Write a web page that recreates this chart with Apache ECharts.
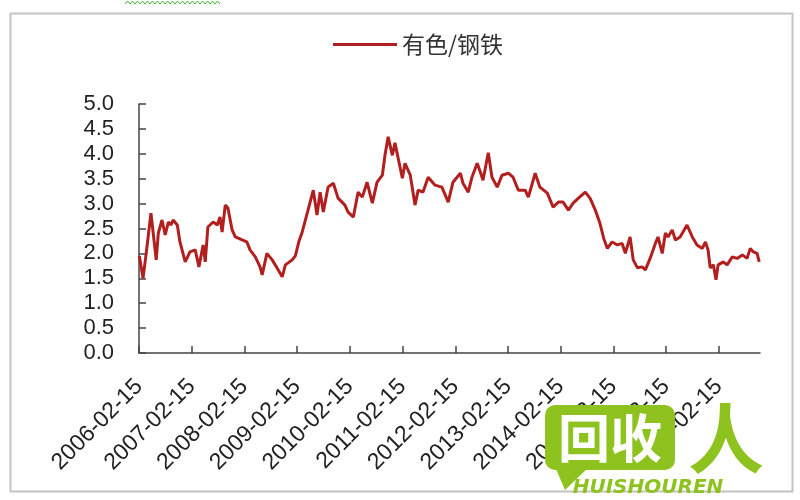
<!DOCTYPE html>
<html>
<head>
<meta charset="utf-8">
<script src="https://cdn.jsdelivr.net/npm/echarts@6/dist/echarts.min.js"></script>
<style>html,body{margin:0;padding:0;background:#fff}#c{width:800px;height:500px}</style>
</head>
<body>
<div id="c"></div>
<script>
// ---- data ----
const seriesName = '有色/钢铁';
const xTickLabels = ['2006-02-15','2007-02-15','2008-02-15','2009-02-15','2010-02-15','2011-02-15',
  '2012-02-15','2013-02-15','2014-02-15','2015-02-15','2016-02-15','2017-02-15'];
const yTickLabels = ['0.0','0.5','1.0','1.5','2.0','2.5','3.0','3.5','4.0','4.5','5.0'];
// decimal years
const years = [
  2006.13,2006.20,2006.26,2006.35,2006.45,2006.49,2006.56,2006.62,2006.68,2006.73,2006.77,2006.85,2006.90,
  2007.00,2007.09,2007.19,2007.26,2007.34,2007.38,2007.43,2007.53,2007.61,2007.66,2007.70,2007.76,2007.81,2007.89,2007.95,
  2008.08,2008.17,2008.23,2008.33,2008.42,2008.46,2008.55,2008.65,2008.74,2008.84,2008.90,
  2009.03,2009.09,2009.16,2009.22,2009.30,2009.37,2009.43,2009.50,2009.56,2009.62,2009.71,2009.81,2009.90,
  2010.03,2010.09,2010.19,2010.28,2010.36,2010.45,2010.55,2010.64,2010.74,2010.79,2010.85,2010.93,2010.98,
  2011.04,2011.12,2011.17,2011.27,2011.36,2011.42,2011.51,2011.61,2011.74,2011.87,2011.99,
  2012.08,2012.22,2012.27,2012.37,2012.44,2012.54,2012.60,2012.65,2012.75,2012.82,2012.92,
  2013.01,2013.13,2013.22,2013.32,2013.45,2013.51,2013.64,2013.73,2013.87,2013.98,
  2014.08,2014.17,2014.27,2014.36,2014.46,2014.59,2014.68,2014.78,2014.87,2014.94,
  2015.01,2015.10,2015.20,2015.29,2015.35,2015.44,2015.50,2015.58,2015.67,2015.73,2015.82,2015.92,2015.97,
  2016.05,2016.11,2016.16,2016.24,2016.30,2016.39,2016.52,2016.62,2016.71,2016.81,2016.87,2016.92,2016.96,
  2017.02,2017.07,2017.11,2017.21,2017.28,2017.38,2017.47,2017.57,2017.66,2017.72,2017.78,2017.85,2017.89
];
const ratio = [
  1.95,1.50,2.00,2.81,1.87,2.41,2.67,2.37,2.63,2.57,2.67,2.57,2.23,
  1.83,2.03,2.07,1.73,2.17,1.83,2.53,2.63,2.57,2.73,2.43,2.97,2.91,2.47,2.33,
  2.27,2.23,2.07,1.93,1.73,1.57,2.00,1.87,1.71,1.53,1.77,
  1.87,1.95,2.25,2.43,2.75,3.03,3.27,2.77,3.23,2.83,3.33,3.41,3.11,
  2.97,2.83,2.73,3.23,3.13,3.43,3.01,3.43,3.57,3.97,4.34,3.97,4.22,
  3.91,3.51,3.81,3.57,2.97,3.27,3.23,3.53,3.37,3.33,3.03,
  3.43,3.61,3.41,3.23,3.53,3.81,3.63,3.47,4.02,3.53,3.33,
  3.57,3.61,3.53,3.27,3.27,3.13,3.61,3.33,3.21,2.93,
  3.03,3.03,2.87,3.01,3.11,3.23,3.11,2.87,2.60,2.30,
  2.10,2.23,2.17,2.20,2.00,2.33,1.87,1.71,1.73,1.67,1.90,2.20,2.33,
  2.00,2.41,2.33,2.47,2.27,2.33,2.57,2.33,2.17,2.10,2.23,2.07,1.71,
  1.77,1.47,1.77,1.83,1.77,1.93,1.90,1.97,1.90,2.10,2.03,2.00,1.83
];
const xEnd = 2017.905;

// ---- build ----
const toDec = s => { const p = s.split('-'); return +p[0] + (31 + (+p[2]) - 1) / 365; };
const tickVals = xTickLabels.map(toDec);
const data = years.map((y, i) => [y, ratio[i]]);

const green = '#8dc21f';
const zig = [];
for (let x = 125; x <= 222; x += 2.5) zig.push([x, (Math.round((x - 125) / 2.5) % 2) ? 1 : 4]);

const chart = echarts.init(document.getElementById('c'));
chart.setOption({
  animation: false,
  backgroundColor: '#fff',
  legend: {
    data: [seriesName],
    left: 328, top: 28,
    icon: 'rect', itemWidth: 64, itemHeight: 3, itemGap: 6,
    textStyle: { fontFamily: 'Noto Sans CJK SC', fontSize: 23, color: '#333' }
  },
  grid: { left: 139, right: 40, top: 104, bottom: 147, containLabel: false },
  xAxis: {
    type: 'value', min: tickVals[0], max: xEnd,
    splitLine: { show: false },
    axisLine: { lineStyle: { color: '#444', width: 1.5 } },
    axisTick: { inside: true, length: 7, customValues: tickVals, lineStyle: { color: '#444', width: 1.5 } },
    axisLabel: {
      customValues: tickVals, rotate: 45, margin: 30,
      fontFamily: 'Liberation Sans', fontSize: 23, color: '#222',
      formatter: v => { let i = tickVals.findIndex(t => Math.abs(t - v) < 1e-6); return i >= 0 ? xTickLabels[i] : ''; }
    }
  },
  yAxis: {
    type: 'value', min: 0, max: 5, interval: 0.5,
    splitLine: { show: false },
    axisLine: { show: true, lineStyle: { color: '#444', width: 1.5 } },
    axisTick: { show: true, inside: true, length: 7, lineStyle: { color: '#444', width: 1.5 } },
    axisLabel: {
      margin: 25, fontFamily: 'Liberation Sans', fontSize: 22, color: '#222',
      formatter: v => yTickLabels[Math.round(v * 2)]
    }
  },
  series: [{
    name: seriesName, type: 'line', data: data,
    showSymbol: false, symbol: 'none',
    color: '#b21f1f',
    lineStyle: { color: '#b21f1f', width: 3 }
  }],
  graphic: [
    { type: 'rect', shape: { x: 10.5, y: 13.5, width: 782, height: 478 }, style: { fill: 'none', stroke: '#c4c4c4', lineWidth: 2 }, z: 0, silent: true },
    { type: 'polyline', shape: { points: zig }, style: { stroke: '#44bb33', lineWidth: 1, fill: 'none' }, z: 5 },
    { type: 'polygon', shape: { points: [[550, 455], [590, 466], [565, 490]] }, style: { fill: green }, z: 100 },
    { type: 'rect', shape: { x: 545, y: 405, width: 130, height: 65, r: 10 }, style: { fill: green }, z: 100 },
    { type: 'text', x: 610, y: 438, style: { text: '回收', fill: '#fff', font: 'bold 52px "Noto Sans CJK SC"', align: 'center', verticalAlign: 'middle' }, z: 101 },
    { type: 'text', x: 726, y: 438, style: { text: '人', fill: green, font: 'bold 76px "Noto Sans CJK SC"', align: 'center', verticalAlign: 'middle' }, z: 101 },
    { type: 'text', x: 648, y: 488, style: { text: 'HUISHOUREN', fill: green, font: 'italic bold 20px "DejaVu Sans"', align: 'center', verticalAlign: 'middle' }, z: 101 }
  ]
});
</script>
</body>
</html>
